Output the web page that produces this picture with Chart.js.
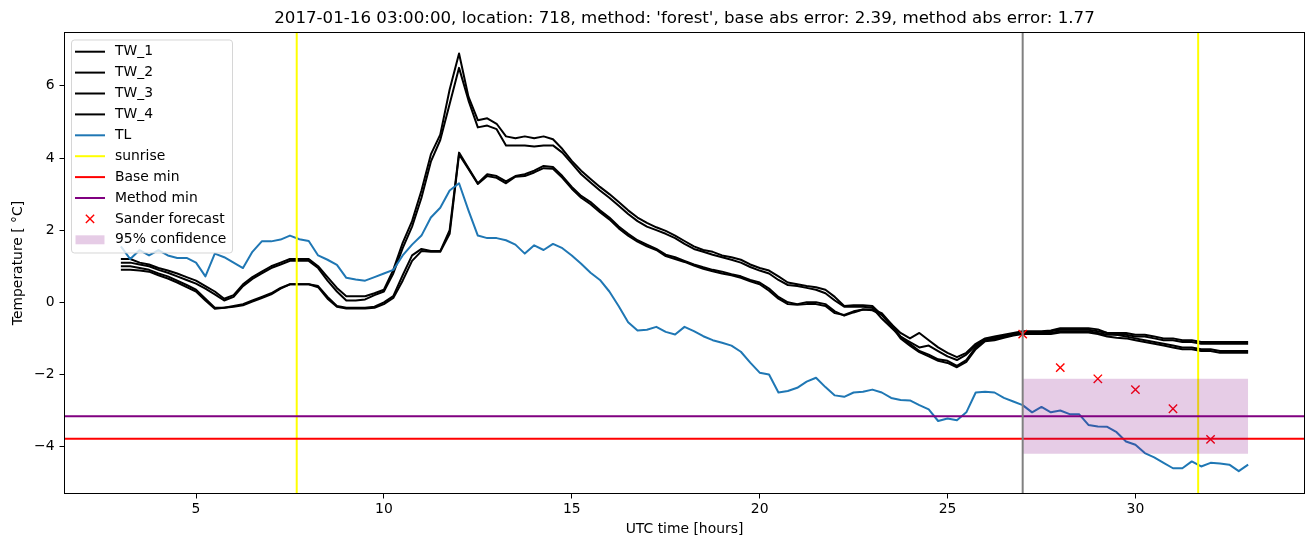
<!DOCTYPE html>
<html><head><meta charset="utf-8">
<script src="https://cdn.jsdelivr.net/npm/chart.js@4/dist/chart.umd.min.js"></script>
<style>html,body{margin:0;padding:0;background:#fff;overflow:hidden}canvas{display:block}</style>
</head><body>
<canvas id="c" width="1313" height="547"></canvas>
<script>
// ---------------- data ----------------
const hours = [
 3,3.25,3.5,3.75, 4,4.25,4.5,4.75, 5,5.25,5.5,5.75, 6,6.25,6.5,6.75, 7,7.25,7.5,7.75,
 8,8.25,8.5,8.75, 9,9.25,9.5,9.75, 10,10.25,10.5,10.75, 11,11.25,11.5,11.75, 12,12.25,12.5,12.75,
 13,13.25,13.5,13.75, 14,14.25,14.5,14.75, 15,15.25,15.5,15.75, 16,16.25,16.5,16.75, 17,17.25,17.5,17.75,
 18,18.25,18.5,18.75, 19,19.25,19.5,19.75, 20,20.25,20.5,20.75, 21,21.25,21.5,21.75, 22,22.25,22.5,22.75,
 23,23.25,23.5,23.75, 24,24.25,24.5,24.75, 25,25.25,25.5,25.75, 26,26.25,26.5,26.75, 27,27.25,27.5,27.75,
 28,28.25,28.5,28.75, 29,29.25,29.5,29.75, 30,30.25,30.5,30.75, 31,31.25,31.5,31.75, 32,32.25,32.5,32.75,
 33
];
const tw1 = [
 1.2,1.2,1.1,1.05, 0.95,0.88,0.8,0.7, 0.6,0.45,0.3,0.1, 0.2,0.5,0.7,0.85, 1.0,1.1,1.2,1.2,
 1.2,1.0,0.7,0.4, 0.17,0.17,0.17,0.25, 0.35,0.9,1.65,2.25, 3.1,4.1,4.65,5.9, 6.9,5.7,5.05,5.1,
 4.95,4.6,4.55,4.6, 4.55,4.6,4.52,4.25, 3.92,3.65,3.42,3.2, 3.0,2.78,2.55,2.35, 2.2,2.08,1.98,1.85,
 1.7,1.55,1.45,1.4, 1.3,1.25,1.18,1.05, 0.95,0.88,0.72,0.55, 0.5,0.45,0.42,0.35, 0.15,-0.1,-0.08,-0.08,
 -0.1,-0.35,-0.6,-0.85, -1.0,-0.85,-1.05,-1.25, -1.4,-1.52,-1.4,-1.15, -1.0,-0.95,-0.9,-0.85, -0.8,-0.8,-0.8,-0.78,
 -0.72,-0.72,-0.72,-0.72, -0.75,-0.85,-0.85,-0.85, -0.9,-0.9,-0.95,-1.0, -1.0,-1.05,-1.05,-1.1, -1.1,-1.1,-1.1,-1.1,
 -1.1
];
const tw2 = [
 1.1,1.1,1.05,1.0, 0.9,0.82,0.72,0.62, 0.52,0.38,0.22,0.05, 0.15,0.45,0.65,0.8, 0.95,1.05,1.15,1.15,
 1.15,0.95,0.6,0.3, 0.05,0.05,0.08,0.2, 0.3,0.8,1.5,2.1, 2.9,3.9,4.5,5.5, 6.5,5.6,4.85,4.9,
 4.8,4.35,4.35,4.35, 4.32,4.35,4.35,4.15, 3.85,3.55,3.32,3.1, 2.9,2.68,2.45,2.25, 2.1,2.0,1.9,1.78,
 1.62,1.48,1.4,1.32, 1.25,1.18,1.1,0.98, 0.88,0.8,0.62,0.48, 0.45,0.4,0.35,0.25, 0.05,-0.12,-0.12,-0.12,
 -0.15,-0.45,-0.7,-0.95, -1.1,-1.25,-1.2,-1.35, -1.5,-1.6,-1.45,-1.2, -1.02,-0.98,-0.92,-0.88, -0.85,-0.82,-0.82,-0.8,
 -0.76,-0.76,-0.76,-0.76, -0.8,-0.85,-0.9,-0.9, -0.95,-0.95,-1.0,-1.05, -1.05,-1.1,-1.1,-1.15, -1.15,-1.15,-1.15,-1.15,
 -1.15
];
const tw3 = [
 1.0,1.0,0.95,0.9, 0.8,0.72,0.6,0.48, 0.35,0.1,-0.15,-0.15, -0.1,-0.05,0.05,0.15, 0.25,0.4,0.5,0.5,
 0.5,0.45,0.15,-0.1, -0.15,-0.15,-0.15,-0.12, 0.0,0.17,0.75,1.3, 1.48,1.42,1.42,2.0, 4.15,3.72,3.3,3.55,
 3.5,3.35,3.5,3.55, 3.65,3.78,3.75,3.5, 3.2,2.95,2.78,2.55, 2.35,2.1,1.9,1.72, 1.6,1.48,1.32,1.25,
 1.15,1.05,0.97,0.9, 0.85,0.78,0.72,0.62, 0.55,0.38,0.15,0.0, -0.05,0.0,0.0,-0.05, -0.25,-0.37,-0.28,-0.2,
 -0.2,-0.3,-0.6,-0.95, -1.15,-1.35,-1.45,-1.58, -1.62,-1.76,-1.6,-1.25, -1.05,-1.02,-0.95,-0.9, -0.85,-0.85,-0.85,-0.85,
 -0.8,-0.8,-0.8,-0.8, -0.85,-0.9,-0.9,-0.95, -1.0,-1.05,-1.1,-1.15, -1.2,-1.25,-1.25,-1.3, -1.3,-1.35,-1.35,-1.35,
 -1.35
];
const tw4 = [
 0.9,0.9,0.88,0.85, 0.75,0.66,0.55,0.42, 0.3,0.05,-0.18,-0.15, -0.12,-0.08,0.02,0.12, 0.22,0.38,0.5,0.5,
 0.5,0.42,0.1,-0.12, -0.17,-0.17,-0.17,-0.15, -0.05,0.12,0.6,1.15, 1.42,1.4,1.4,1.9, 4.1,3.7,3.28,3.5,
 3.45,3.3,3.48,3.5, 3.6,3.72,3.7,3.45, 3.15,2.9,2.72,2.5, 2.3,2.05,1.85,1.68, 1.55,1.45,1.28,1.2,
 1.12,1.02,0.93,0.86, 0.8,0.75,0.68,0.58, 0.5,0.32,0.1,-0.05, -0.07,-0.05,-0.05,-0.1, -0.3,-0.35,-0.25,-0.2,
 -0.22,-0.35,-0.65,-1.0, -1.2,-1.38,-1.5,-1.62, -1.68,-1.8,-1.65,-1.3, -1.08,-1.05,-0.98,-0.92, -0.88,-0.88,-0.88,-0.88,
 -0.84,-0.84,-0.84,-0.84, -0.88,-0.95,-0.98,-1.0, -1.05,-1.1,-1.15,-1.2, -1.25,-1.3,-1.3,-1.35, -1.35,-1.4,-1.4,-1.4,
 -1.4
];
const tl = [
 1.55,1.2,1.45,1.3, 1.45,1.3,1.23,1.23, 1.1,0.72,1.35,1.25, 1.1,0.95,1.4,1.69, 1.69,1.74,1.85,1.75,
 1.7,1.3,1.18,1.04, 0.68,0.63,0.6,0.7, 0.8,0.9,1.3,1.6, 1.85,2.35,2.62,3.1, 3.3,2.55,1.85,1.78,
 1.78,1.72,1.6,1.35, 1.58,1.45,1.62,1.5, 1.3,1.07,0.82,0.62, 0.3,-0.11,-0.55,-0.78, -0.76,-0.68,-0.82,-0.89,
 -0.68,-0.8,-0.94,-1.05, -1.12,-1.2,-1.37,-1.67, -1.95,-2.0,-2.5,-2.46, -2.37,-2.2,-2.09,-2.35, -2.58,-2.62,-2.5,-2.48,
 -2.42,-2.5,-2.65,-2.71, -2.72,-2.85,-2.97,-3.29, -3.22,-3.27,-3.05,-2.5, -2.48,-2.5,-2.65,-2.75, -2.85,-3.05,-2.9,-3.05,
 -3.0,-3.1,-3.1,-3.4, -3.44,-3.45,-3.6,-3.86, -3.95,-4.18,-4.3,-4.45, -4.6,-4.6,-4.41,-4.55, -4.45,-4.47,-4.5,-4.68,
 -4.5
];
const sanderHours = [27, 28, 29, 30, 31, 32];
const sanderTemps = [-0.88, -1.81, -2.12, -2.42, -2.95, -3.80];
const sunriseHours = [7.68, 31.67];
const forecastStartHour = 27;
const baseMin = -3.78;
const methodMin = -3.16;
const confHours = [27, 33];
const confUpper = [-2.12, -2.12];
const confLower = [-4.20, -4.20];
const xTicks = [5, 10, 15, 20, 25, 30];
const xTickLabels = ['5', '10', '15', '20', '25', '30'];
const yTicks = [-4, -2, 0, 2, 4, 6];
const yTickLabels = ['\u22124', '\u22122', '0', '2', '4', '6'];
const xRange = [1.5, 34.5];
const yRange = [-5.3, 7.48];
const seriesNames = ['TW_1', 'TW_2', 'TW_3', 'TW_4', 'TL'];
const extraNames = ['sunrise', 'Base min', 'Method min', 'Sander forecast', '95% confidence'];
const titleText = "2017-01-16 03:00:00, location: 718, method: 'forest', base abs error: 2.39, method abs error: 1.77";
const xTitle = 'UTC time [hours]';
const yTitle = 'Temperature [ \u00B0C]';

// ---------------- styles ----------------
const FONT = '"DejaVu Sans", Verdana, sans-serif';
const TW_COLOR = '#000000';
const TL_COLOR = '#1f77b4';
const SUN_COLOR = '#ffff00';
const BASE_COLOR = '#ff0000';
const METHOD_COLOR = '#800080';
const SANDER_COLOR = '#ff0000';
const CONF_COLOR = 'rgba(128,0,128,0.2)';
const GREY = '#808080';
const LW = 2;

function pts(xs, ys) { return xs.map((x, i) => ({ x: x, y: ys[i] })); }

const datasets = [];
[tw1, tw2, tw3, tw4].forEach((s, i) => datasets.push({
  label: seriesNames[i], data: pts(hours, s), borderColor: TW_COLOR, borderWidth: LW,
  pointRadius: 0, tension: 0, borderJoinStyle: 'round', fill: false
}));
datasets.push({
  label: seriesNames[4], data: pts(hours, tl), borderColor: TL_COLOR, borderWidth: LW,
  pointRadius: 0, tension: 0, borderJoinStyle: 'round', fill: false
});
datasets.push({
  label: extraNames[3], data: pts(sanderHours, sanderTemps), showLine: false,
  pointStyle: 'crossRot', pointRadius: 5.9, pointBorderWidth: 1.4,
  pointBorderColor: SANDER_COLOR, pointBackgroundColor: SANDER_COLOR, borderColor: SANDER_COLOR, fill: false
});
datasets.push({
  label: extraNames[4], data: pts(confHours, confUpper), borderWidth: 0, borderColor: 'rgba(0,0,0,0)',
  pointRadius: 0, tension: 0, fill: '+1', backgroundColor: CONF_COLOR
});
datasets.push({
  label: extraNames[4] + ' lower', data: pts(confHours, confLower), borderWidth: 0, borderColor: 'rgba(0,0,0,0)',
  pointRadius: 0, tension: 0, fill: false
});
datasets.forEach((d, i) => { d.order = datasets.length - i; });

const TL_INDEX = 4;

const refLines = {
  id: 'refLines',
  afterDatasetDraw(chart, args) {
    if (args.index !== TL_INDEX) return;
    const { ctx, chartArea: a, scales: { x, y } } = chart;
    ctx.save();
    ctx.beginPath(); ctx.rect(a.left, a.top, a.right - a.left, a.bottom - a.top); ctx.clip();
    ctx.lineWidth = LW;
    ctx.strokeStyle = SUN_COLOR;
    sunriseHours.forEach(h => {
      const px = x.getPixelForValue(h);
      ctx.beginPath(); ctx.moveTo(px, a.top); ctx.lineTo(px, a.bottom); ctx.stroke();
    });
    [[baseMin, BASE_COLOR], [methodMin, METHOD_COLOR]].forEach(([v, c]) => {
      const py = y.getPixelForValue(v);
      ctx.strokeStyle = c;
      ctx.beginPath(); ctx.moveTo(a.left, py); ctx.lineTo(a.right, py); ctx.stroke();
    });
    ctx.restore();
  },
  afterDatasetsDraw(chart) {
    const { ctx, chartArea: a, scales: { x } } = chart;
    ctx.save();
    ctx.lineWidth = LW;
    ctx.strokeStyle = GREY;
    const px = x.getPixelForValue(forecastStartHour);
    ctx.beginPath(); ctx.moveTo(px, a.top); ctx.lineTo(px, a.bottom); ctx.stroke();
    // frame (spines)
    ctx.lineWidth = 1;
    ctx.strokeStyle = '#000';
    ctx.strokeRect(a.left, a.top, a.right - a.left, a.bottom - a.top);
    ctx.restore();
  }
};

const legendBox = {
  id: 'legendBox',
  afterDraw(chart) {
    const { ctx, chartArea: a } = chart;
    const items = [
      { label: seriesNames[0], kind: 'line', color: TW_COLOR },
      { label: seriesNames[1], kind: 'line', color: TW_COLOR },
      { label: seriesNames[2], kind: 'line', color: TW_COLOR },
      { label: seriesNames[3], kind: 'line', color: TW_COLOR },
      { label: seriesNames[4], kind: 'line', color: TL_COLOR },
      { label: extraNames[0], kind: 'line', color: SUN_COLOR },
      { label: extraNames[1], kind: 'line', color: BASE_COLOR },
      { label: extraNames[2], kind: 'line', color: METHOD_COLOR },
      { label: extraNames[3], kind: 'marker', color: SANDER_COLOR },
      { label: extraNames[4], kind: 'patch', color: CONF_COLOR }
    ];
    const bx = a.left + 7, by = a.top + 7.5, bw = 161, bh = 213, r = 3;
    ctx.save();
    ctx.beginPath();
    ctx.moveTo(bx + r, by);
    ctx.lineTo(bx + bw - r, by); ctx.arcTo(bx + bw, by, bx + bw, by + r, r);
    ctx.lineTo(bx + bw, by + bh - r); ctx.arcTo(bx + bw, by + bh, bx + bw - r, by + bh, r);
    ctx.lineTo(bx + r, by + bh); ctx.arcTo(bx, by + bh, bx, by + bh - r, r);
    ctx.lineTo(bx, by + r); ctx.arcTo(bx, by, bx + r, by, r);
    ctx.closePath();
    ctx.fillStyle = 'rgba(255,255,255,0.8)';
    ctx.fill();
    ctx.strokeStyle = 'rgba(204,204,204,0.8)';
    ctx.lineWidth = 1;
    ctx.stroke();
    ctx.font = '13.9px ' + FONT;
    ctx.textBaseline = 'middle';
    ctx.textAlign = 'left';
    const x0 = bx + 3.5, x1 = bx + 33.5, tx = bx + 43.5;
    items.forEach((it, i) => {
      const cy = by + 11.7 + i * 20.9;
      if (it.kind === 'line') {
        ctx.strokeStyle = it.color; ctx.lineWidth = LW;
        ctx.beginPath(); ctx.moveTo(x0, cy); ctx.lineTo(x1, cy); ctx.stroke();
      } else if (it.kind === 'marker') {
        const cx = (x0 + x1) / 2, d = 4.15;
        ctx.strokeStyle = it.color; ctx.lineWidth = 1.4;
        ctx.beginPath();
        ctx.moveTo(cx - d, cy - d); ctx.lineTo(cx + d, cy + d);
        ctx.moveTo(cx - d, cy + d); ctx.lineTo(cx + d, cy - d);
        ctx.stroke();
      } else {
        ctx.fillStyle = it.color;
        ctx.fillRect(x0 + 0.5, cy - 4.5, x1 - x0 - 1, 9);
      }
      ctx.fillStyle = '#000';
      ctx.fillText(it.label, tx, cy);
    });
    ctx.restore();
  }
};

const tickFont = { family: FONT, size: 13.9, weight: 'normal' };

new Chart(document.getElementById('c'), {
  type: 'line',
  data: { datasets: datasets },
  plugins: [refLines, legendBox],
  options: {
    responsive: false,
    animation: false,
    devicePixelRatio: 1,
    events: [],
    layout: { padding: { left: 0, right: 8.5, top: 0, bottom: 0 } },
    plugins: {
      legend: { display: false },
      tooltip: { enabled: false },
      title: {
        display: true, fullSize: false, text: titleText, color: '#000',
        font: { family: FONT, size: 16.67, weight: 'normal', lineHeight: 1.2 },
        padding: { top: 8.3, bottom: 4.2 }
      }
    },
    scales: {
      x: {
        type: 'linear', min: xRange[0], max: xRange[1],
        afterBuildTicks: s => { s.ticks = xTicks.map(v => ({ value: v })); },
        afterFit: s => { s.height = 53.5; },
        grid: { display: true, drawOnChartArea: false, drawTicks: true, tickLength: 5, tickColor: '#000', tickWidth: 1 },
        border: { display: false },
        ticks: {
          color: '#000', font: tickFont, padding: 3, maxRotation: 0, autoSkip: false,
          callback: (v) => { const i = xTicks.indexOf(v); return i >= 0 ? xTickLabels[i] : ''; }
        },
        title: { display: true, text: xTitle, color: '#000', font: tickFont, padding: { top: 0, bottom: 9.7 } }
      },
      y: {
        type: 'linear', min: yRange[0], max: yRange[1],
        afterBuildTicks: s => { s.ticks = yTicks.map(v => ({ value: v })); },
        afterFit: s => { s.width = 64.5; },
        grid: { display: true, drawOnChartArea: false, drawTicks: true, tickLength: 5, tickColor: '#000', tickWidth: 1 },
        border: { display: false },
        ticks: {
          color: '#000', font: tickFont, padding: 5, autoSkip: false,
          callback: (v) => { const i = yTicks.indexOf(v); return i >= 0 ? yTickLabels[i] : ''; }
        },
        title: { display: true, text: yTitle, color: '#000', font: tickFont, padding: { top: 10, bottom: 0 } }
      }
    }
  }
});
</script>
</body></html>
